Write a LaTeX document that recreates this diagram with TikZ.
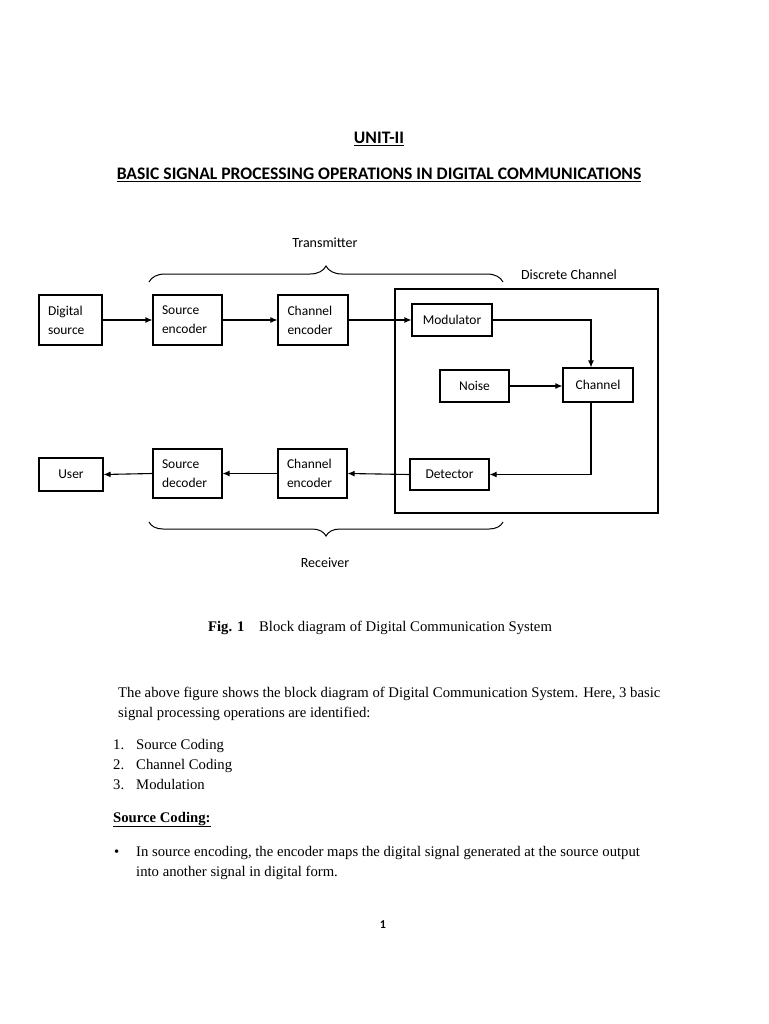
\documentclass[tikz,border=0pt]{standalone}
\usepackage{fontspec}
\setmainfont{Liberation Serif}
\newfontfamily\calfont{Carlito}
\usetikzlibrary{arrows.meta,decorations.pathreplacing}
\begin{document}
\begin{tikzpicture}[x=1pt,y=-1pt,
  blk/.style={draw,line width=1.1pt,inner sep=0pt,font=\calfont\fontsize{13.5}{19}\selectfont},
  arr/.style={line width=1.1pt,-{Latex[length=7pt,width=6pt]}},
  ln/.style={line width=1.1pt},
  brc/.style={decorate,line width=1pt},
  lbl/.style={font=\calfont\fontsize{14}{16}\selectfont,inner sep=0pt},
  head/.style={font=\calfont\bfseries\fontsize{17.6}{20}\selectfont,inner sep=0pt,anchor=base},
  body/.style={font=\fontsize{14.7}{20}\selectfont,inner sep=0pt,anchor=base west}]
\useasboundingbox[fill=white] (0,0) rectangle (768,1024);

% headings
\node[head] (unit) at (379,144) {\underline{UNIT-II}};
\node[head] (title) at (379,180) {\underline{BASIC SIGNAL PROCESSING OPERATIONS IN DIGITAL COMMUNICATIONS}};

% discrete channel frame
\node[draw,line width=1.1pt,minimum width=263pt,minimum height=224pt,inner sep=0pt] (dcbox) at (526.5,401) {};

% blocks
\node[blk,minimum width=63pt,minimum height=50pt,text width=45pt,align=left] (ds) at (70.5,320) {Digital\\source};
\node[blk,minimum width=69pt,minimum height=50pt,text width=51pt,align=left] (se) at (187.5,320) {Source\\encoder};
\node[blk,minimum width=70pt,minimum height=50pt,text width=51pt,align=left] (ce) at (313,320) {Channel\\encoder};
\node[blk,minimum width=80pt,minimum height=32pt,align=center] (mod) at (452,320) {Modulator};
\node[blk,minimum width=69pt,minimum height=32pt,align=center] (noise) at (474.5,386) {Noise};
\node[blk,minimum width=70pt,minimum height=34pt,align=center] (chan) at (598,385) {Channel};
\node[blk,minimum width=79pt,minimum height=31pt,align=center] (det) at (449.5,474.5) {Detector};
\node[blk,minimum width=64pt,minimum height=33pt,align=center] (user) at (71,474.5) {User};
\node[blk,minimum width=69pt,minimum height=49pt,text width=51pt,align=left] (sd) at (187.5,473.5) {Source\\decoder};
\node[blk,minimum width=69pt,minimum height=49pt,text width=51pt,align=left] (ce2) at (312.5,473.5) {Channel\\encoder};

% connectors
\draw[arr] (ds.east) -- (se.west);
\draw[arr] (se.east) -- (ce.west);
\draw[arr] (ce.east) -- (mod.west);
\draw[arr] (mod.east) -| ([xshift=-7pt]chan.north);
\draw[arr] (noise.east) -- (noise.east -| chan.west);
\draw[arr] ([xshift=-7pt]chan.south) |- (det.east);
\draw[arr] (det.west) -- (ce2.east);
\draw[arr] (ce2.west) -- (sd.east);
\draw[arr] (sd.west) -- (user.east);

% braces and labels
\coordinate (tb1) at (149,282);
\coordinate (tb2) at (503,282);
\coordinate (bb1) at (503,522);
\coordinate (bb2) at (149,522);
\draw[brc,decoration={brace,amplitude=16pt}] (tb1) -- (tb2);
\draw[brc,decoration={brace,amplitude=14pt}] (bb1) -- (bb2);
\node[lbl] (tx) at (325,243) {Transmitter};
\node[lbl] (rx) at (325,563) {Receiver};
\node[lbl] (dclbl) at (569,275) {Discrete Channel};

% caption
\node[body,anchor=base] (cap) at (380,631) {\textbf{Fig. 1}\hspace{0.75em} Block diagram of Digital Communication System};

% body text
\node[body] (p1) at (118,697) {The above figure shows the block diagram of Digital Communication System. Here, 3 basic};
\node[body] (p2) at (118,717) {signal processing operations are identified:};
\node[body] (n1) at (113,749) {1.};
\node[body] (l1) at (136,749) {Source Coding};
\node[body] (n2) at (113,769) {2.};
\node[body] (l2) at (136,769) {Channel Coding};
\node[body] (n3) at (113,789) {3.};
\node[body] (l3) at (136,789) {Modulation};
\node[body] (sc) at (113,822) {\textbf{\underline{Source Coding:}}};
\node[body] (bul) at (114,856) {\textbullet};
\node[body] (b1) at (136,856) {In source encoding, the encoder maps the digital signal generated at the source output};
\node[body] (b2) at (136,876) {into another signal in digital form.};
\node[lbl,font=\calfont\bfseries\fontsize{12}{14}\selectfont,anchor=base] (pg) at (383,928) {1};
\end{tikzpicture}
\end{document}
